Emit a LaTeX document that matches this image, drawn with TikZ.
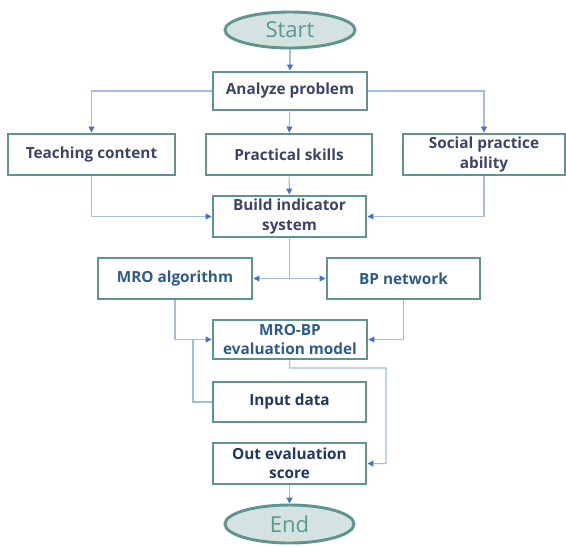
\documentclass[tikz,border=0pt]{standalone}
\usepackage{fontspec}
\setmainfont{Open Sans}
\usetikzlibrary{shapes.geometric,arrows.meta}

\definecolor{boxedge}{HTML}{5E9590}
\definecolor{ovalfill}{HTML}{D4E3E1}
\definecolor{ovaltext}{HTML}{5A9892}
\definecolor{slatetext}{HTML}{3C4468}
\definecolor{bluetext}{HTML}{2E5A8C}
\definecolor{navytext}{HTML}{1F3864}
\definecolor{linkline}{HTML}{A4BCE2}
\definecolor{tipblue}{HTML}{4472C4}

\tikzset{
  box/.style={draw=boxedge, line width=2.2pt, fill=white, rectangle,
    align=center, font=\fontsize{11.5}{14.5}\selectfont\bfseries,
    inner sep=0pt},
  oval/.style={draw=boxedge, line width=2.2pt, fill=ovalfill, ellipse,
    inner sep=0pt, text=ovaltext, font=\fontsize{16.5}{17}\selectfont},
  link/.style={draw=linkline, line width=0.8pt},
  arrowlink/.style={link, -{Triangle[length=4.5pt,width=4.5pt,color=tipblue]}}
}

\begin{document}
\begin{tikzpicture}[x=0.75pt,y=-0.75pt]
\useasboundingbox (0,0) rectangle (566,546);

% terminals
\node[oval, minimum width=97.5pt, minimum height=27pt] (start) at (290,30) {Start};
\node[oval, minimum width=96.75pt, minimum height=28.5pt] (end) at (289.5,524) {End};

% first level
\node[box, text=slatetext, minimum width=115.5pt, minimum height=28.5pt] (analyze) at (290,91) {Analyze problem};
\node[box, text=slatetext, minimum width=125.25pt, minimum height=30.75pt] (teach) at (91.5,154.5) {Teaching content};
\node[box, text=slatetext, minimum width=124.5pt, minimum height=30.75pt] (skills) at (289,154.5) {Practical skills};
\node[box, text=slatetext, minimum width=121.5pt, minimum height=30.75pt] (social) at (484,154.5) {Social practice\\ability};
\node[box, text=slatetext, minimum width=114.75pt, minimum height=30.75pt] (build) at (289.5,216.5) {Build indicator\\system};

% model
\node[box, text=bluetext, minimum width=115.5pt, minimum height=30.75pt] (mro) at (175,278.5) {MRO algorithm};
\node[box, text=bluetext, minimum width=114.75pt, minimum height=30.75pt] (bp) at (403.5,278.5) {BP network};
\node[box, text=bluetext, minimum width=115.5pt, minimum height=29.25pt] (mrobp) at (290,339.5) {MRO-BP\\evaluation model};

% data and result
\node[box, text=navytext, minimum width=114.75pt, minimum height=30pt] (input) at (289.5,402) {Input data};
\node[box, text=navytext, minimum width=114.75pt, minimum height=30.75pt] (out) at (289.5,463.5) {Out evaluation\\score};

% junction points
\coordinate (split) at (289.5,278.5);
\coordinate (merge) at (193,339.5);
\coordinate (down1) at (289.5,368);
\coordinate (down2) at (386,368);

% connectors
\draw[arrowlink] (start) -- (analyze);
\draw[arrowlink] (analyze.west) -| (teach.north);
\draw[arrowlink] (analyze) -- (skills);
\draw[arrowlink] (analyze.east) -| (social.north);
\draw[arrowlink] (teach.south) |- (build.west);
\draw[arrowlink] (skills) -- (build);
\draw[arrowlink] (social.south) |- (build.east);
\draw[link] (build.south) -- (split);
\draw[arrowlink] (split) -- (mro.east);
\draw[arrowlink] (split) -- (bp.west);
\draw[arrowlink] (mro.south) |- (mrobp.west);
\draw[arrowlink] (bp.south) |- (mrobp.east);
\draw[link] (input.west) -| (merge);
\draw[arrowlink] (mrobp.south) -- (down1) -- (down2) |- (out.east);
\draw[arrowlink] (out) -- (end);
\end{tikzpicture}
\end{document}
